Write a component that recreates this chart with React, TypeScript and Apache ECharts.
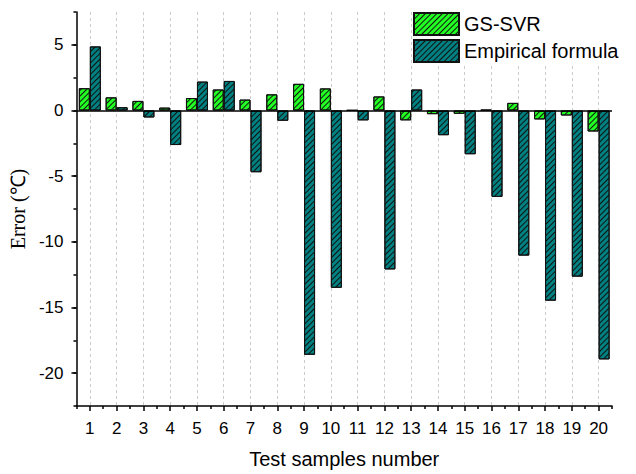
import React, { useEffect, useRef } from "react";
import * as echarts from "echarts";

const categories = ["1","2","3","4","5","6","7","8","9","10","11","12","13","14","15","16","17","18","19","20"];
const gsSvr = [1.70, 1.00, 0.73, 0.22, 0.95, 1.60, 0.83, 1.23, 2.03, 1.68, 0.02, 1.07, -0.75, -0.28, -0.25, 0.05, 0.58, -0.68, -0.38, -1.60];
const empirical = [4.88, 0.25, -0.53, -2.63, 2.20, 2.25, -4.70, -0.78, -18.60, -13.50, -0.75, -12.10, 1.60, -1.88, -3.33, -6.58, -11.05, -14.48, -12.65, -18.95];
const yTicks = [-22.5, -20, -17.5, -15, -12.5, -10, -7.5, -5, -2.5, 0, 2.5, 5, 7.5];
const seriesNames = ["GS-SVR", "Empirical formula"];

const SANS = "'Liberation Sans', Arial, sans-serif";
const SERIF = "'Liberation Serif', 'Times New Roman', serif";

export default function App() {
  const ref = useRef<HTMLDivElement>(null);
  useEffect(() => {
    if (!ref.current) return;
    const chart = echarts.init(ref.current, null, { renderer: "svg" });
    const halfCats = Array.from({ length: categories.length * 2 + 1 }, (_, i) => String(i));
    const decal = {
      symbol: "rect",
      symbolSize: 1,
      dashArrayX: [1, 0],
      dashArrayY: [1, 2.4],
      rotation: -Math.PI / 4,
      color: "#111",
    };
    const option: any = {
      animation: false,
      backgroundColor: "#fff",
      grid: { left: 76, right: 24, top: 12, bottom: 62, containLabel: false },
      legend: {
        orient: "vertical",
        left: 413,
        top: 12,
        itemWidth: 45,
        itemHeight: 22,
        itemGap: 3,
        icon: "rect",
        padding: [0, 4, 0, 0],
        backgroundColor: "#fff",
        textStyle: { fontFamily: SANS, fontSize: 20, color: "#000" },
        data: seriesNames,
      },
      xAxis: [
        {
          type: "category",
          data: categories,
          position: "bottom",
          boundaryGap: true,
          name: "Test samples number",
          nameLocation: "middle",
          nameGap: 43,
          nameTextStyle: { fontFamily: SANS, fontSize: 20, color: "#000" },
          axisLine: { show: true, onZero: false, lineStyle: { color: "#000", width: 1.5 } },
          axisTick: { show: true, alignWithLabel: true, length: 5, lineStyle: { color: "#000", width: 1.5 } },
          axisLabel: { interval: 0, margin: 14, fontFamily: SANS, fontSize: 17, color: "#000" },
          splitLine: { show: false },
        },
        {
          type: "category",
          data: halfCats,
          position: "bottom",
          boundaryGap: false,
          axisLine: { show: false, onZero: false },
          axisTick: {
            show: true,
            length: 3,
            interval: (i: number) => i % 2 === 0,
            lineStyle: { color: "#000", width: 1.5 },
          },
          axisLabel: { show: false },
          splitLine: {
            show: true,
            interval: (i: number) => i % 2 === 1,
            lineStyle: { color: "#cccccc", type: [3, 3], width: 1 },
          },
        },
      ],
      yAxis: [
        {
          type: "value",
          min: -22.5,
          max: 7.5,
          interval: 2.5,
          position: "left",
          name: "Error (℃)",
          nameLocation: "middle",
          nameGap: 32,
          nameTextStyle: { fontFamily: SERIF, fontSize: 20, color: "#000" },
          axisLine: { show: true, onZero: false, lineStyle: { color: "#000", width: 1.5 } },
          axisTick: { show: true, length: 3, lineStyle: { color: "#000", width: 1.5 } },
          axisLabel: {
            margin: 13,
            fontFamily: SANS,
            fontSize: 17,
            color: "#000",
            formatter: (v: number) => (Math.abs(v % 5) < 1e-9 ? String(v) : ""),
          },
          splitLine: { show: false },
        },
        {
          type: "category",
          data: yTicks.map(String),
          position: "left",
          boundaryGap: false,
          axisLine: { show: false, onZero: false },
          axisTick: {
            show: true,
            length: 5,
            interval: (i: number) => Math.abs(yTicks[i] % 5) < 1e-9,
            lineStyle: { color: "#000", width: 1.5 },
          },
          axisLabel: { show: false },
          splitLine: { show: false },
        },
      ],
      series: [
        {
          name: seriesNames[0],
          type: "bar",
          xAxisIndex: 0,
          yAxisIndex: 0,
          data: gsSvr,
          barWidth: 11,
          barGap: "0%",
          itemStyle: { color: "#22ff22", borderColor: "#111", borderWidth: 1, decal },
          markLine: {
            silent: true,
            symbol: "none",
            label: { show: false },
            lineStyle: { color: "#000", type: "solid", width: 1.5 },
            data: [{ yAxis: 0 }],
          },
        },
        {
          name: seriesNames[1],
          type: "bar",
          xAxisIndex: 0,
          yAxisIndex: 0,
          data: empirical,
          barWidth: 11,
          barGap: "0%",
          itemStyle: { color: "#008080", borderColor: "#111", borderWidth: 1, decal },
        },
      ],
    };
    chart.setOption(option);
    return () => chart.dispose();
  }, []);
  return <div ref={ref} style={{ width: 636, height: 474, position: "absolute", left: 0, top: 0 }} />;
}
